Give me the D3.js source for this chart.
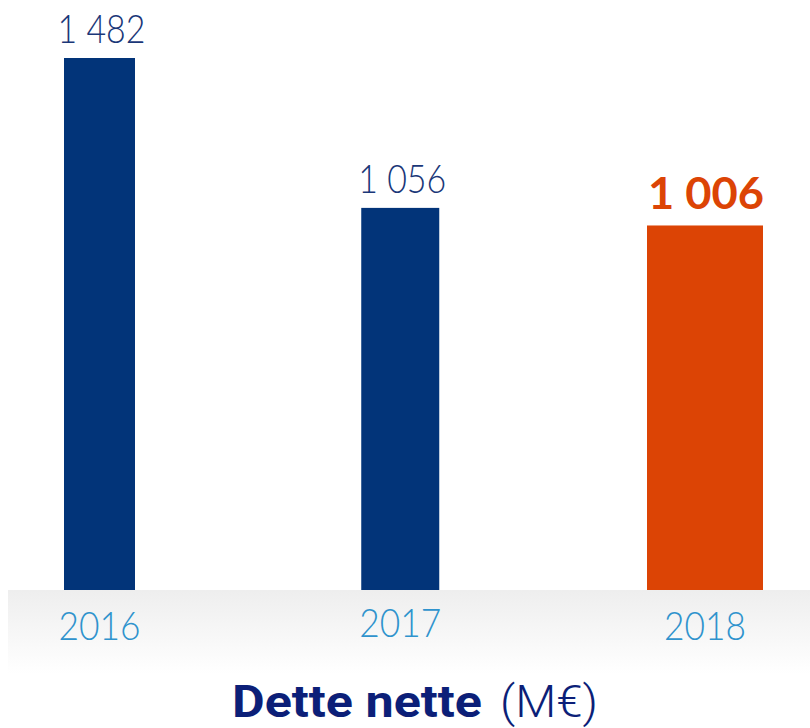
<!DOCTYPE html>
<html>
<head>
<meta charset="utf-8">
<script src="https://cdn.jsdelivr.net/npm/d3@7"></script>
<style>
  body { margin: 0; background: #fff; }
  svg { display: block; }
</style>
</head>
<body>
<div class="chart"></div>
<script>
  // chart data
  var years = ['2016', '2017', '2018'];
  var values = [1482, 1056, 1006];
  var valueLabels = ['1 482', '1 056', '1 006'];

  // styling per bar (widths differ in the original)
  var barWidths = [71, 78, 116];
  var barColors = ['#023479', '#023479', '#dc4405'];

  var W = 810, H = 728;
  var baseY = 590;

  var svg = d3.select('.chart')
    .append('svg')
    .attr('width', W)
    .attr('height', H);

  // grey fading band under the bars
  var grad = svg.append('defs').append('linearGradient')
    .attr('id', 'band')
    .attr('x1', 0).attr('y1', 0)
    .attr('x2', 0).attr('y2', 1);
  grad.append('stop').attr('offset', '0%').attr('stop-color', '#eeeeee');
  grad.append('stop').attr('offset', '100%').attr('stop-color', '#ffffff');

  svg.append('rect')
    .attr('x', 8)
    .attr('y', baseY)
    .attr('width', W - 8)
    .attr('height', 84)
    .attr('fill', 'url(#band)');

  var x = d3.scalePoint()
    .domain(years)
    .range([99.5, 705]);

  var y = d3.scaleLinear()
    .domain([-30, 1482])
    .range([baseY, 58]);

  svg.selectAll('.bar')
    .data(years)
    .enter()
    .append('rect')
    .attr('class', 'bar')
    .attr('x', function(d, i) { return x(d) - barWidths[i] / 2 - (i === 1 ? 2 : 0); })
    .attr('y', function(d, i) { return y(values[i]); })
    .attr('width', function(d, i) { return barWidths[i]; })
    .attr('height', function(d, i) { return baseY - y(values[i]); })
    .attr('fill', function(d, i) { return barColors[i]; });

  // value labels above bars - last one highlighted
  svg.selectAll('.val')
    .data(years)
    .enter()
    .append('text')
    .attr('class', 'val')
    .attr('x', function(d, i) { return x(d) + (i === 2 ? 1 : 2) - (i === 1 ? 2 : 0); })
    .attr('y', function(d, i) { return y(values[i]) - (i === 2 ? 16 : 15); })
    .attr('text-anchor', 'middle')
    .attr('font-family', 'Lato, sans-serif')
    .attr('font-size', function(d, i) { return i === 2 ? 44 : 40; })
    .attr('font-weight', function(d, i) { return i === 2 ? 700 : 300; })
    .attr('fill', function(d, i) { return i === 2 ? '#dc4405' : '#1a3778'; })
    .attr('textLength', function(d, i) { return i === 2 ? 116 : 88; })
    .attr('lengthAdjust', 'spacingAndGlyphs')
    .text(function(d, i) { return valueLabels[i]; });

  // year labels
  svg.selectAll('.year')
    .data(years)
    .enter()
    .append('text')
    .attr('class', 'year')
    .attr('x', function(d, i) { return x(d) - (i === 1 ? 2 : 0); })
    .attr('y', function(d, i) { return i === 1 ? 637 : 640; })
    .attr('text-anchor', 'middle')
    .attr('font-family', 'Lato, sans-serif')
    .attr('font-size', 40)
    .attr('font-weight', 300)
    .attr('fill', '#2f93cd')
    .attr('textLength', 82)
    .attr('lengthAdjust', 'spacingAndGlyphs')
    .text(function(d) { return d; });

  // title
  var title = svg.append('text')
    .attr('x', 232)
    .attr('y', 717)
    .attr('font-family', 'Roboto, sans-serif')
    .attr('fill', '#0c1f78');

  title.append('tspan')
    .attr('font-size', 45)
    .attr('font-weight', 700)
    .attr('textLength', 250)
    .attr('lengthAdjust', 'spacingAndGlyphs')
    .text('Dette nette');

  title.append('tspan')
    .attr('x', 500)
    .attr('font-size', 44)
    .attr('font-weight', 300)
    .attr('textLength', 98)
    .attr('lengthAdjust', 'spacingAndGlyphs')
    .text('(M€)');
</script>
</body>
</html>
